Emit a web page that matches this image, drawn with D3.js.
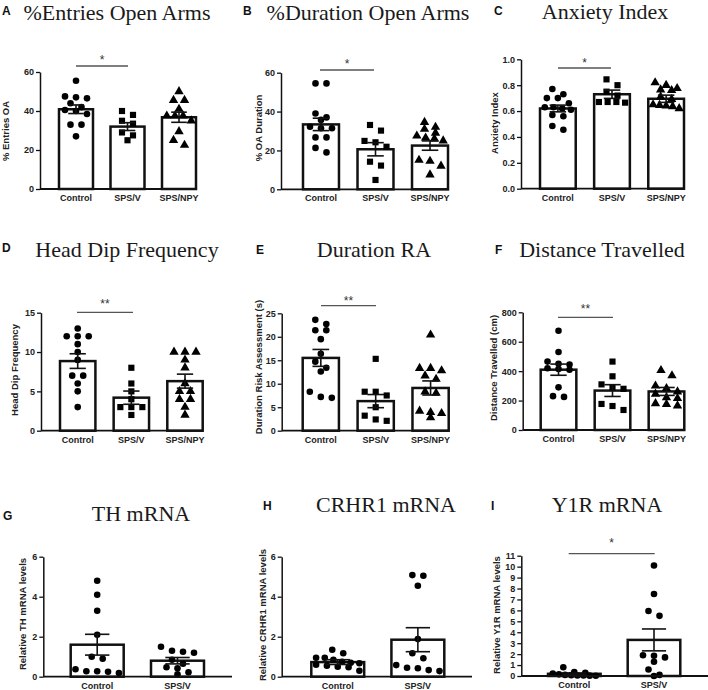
<!DOCTYPE html>
<html><head><meta charset="utf-8">
<script src="https://cdn.jsdelivr.net/npm/d3@7"></script>
<style>body{margin:0;background:#fff}svg{display:block}</style>
</head><body>
<svg id="c" width="708" height="690"></svg>
<script>
// ---------- DATA ----------
const groups3 = ["Control", "SPS/V", "SPS/NPY"];
const groups2 = ["Control", "SPS/V"];

// A  %Entries Open Arms
const entriesControl = [55.5, 47.5, 47, 46.5, 44, 42, 40.5, 40, 38.5, 33, 33, 27];
const entriesSPSV = [40, 38, 35, 33.5, 29, 27.5, 25];
const entriesSPSNPY = [50, 45.5, 45.5, 41, 37.5, 37.5, 37.5, 35, 29.5, 25, 22.5];
const entriesMean = [40.9, 32, 36.8];
const entriesSEM = [2.2, 2.0, 2.6];
const entriesTicks = [0, 20, 40, 60];

// B  %Duration Open Arms
const durationControl = [54.5, 54.5, 39, 37, 35.7, 32.2, 31.4, 31.4, 26.7, 26.7, 21.3, 19];
const durationSPSV = [33.1, 30.2, 24.9, 24.2, 21.9, 14.2, 12.2, 4.8];
const durationSPSNPY = [34.5, 32, 31, 29, 27.5, 26.5, 26, 25, 15, 14.5, 12, 7.5];
const durationMean = [33.4, 20.6, 22.5];
const durationSEM = [3.2, 3.4, 2.4];
const durationTicks = [0, 20, 40, 60];

// C  Anxiety Index
const anxietyControl = [0.77, 0.73, 0.70, 0.70, 0.66, 0.63, 0.63, 0.62, 0.61, 0.57, 0.56, 0.485, 0.455];
const anxietySPSV = [0.845, 0.80, 0.75, 0.72, 0.67, 0.67, 0.67, 0.665];
const anxietySPSNPY = [0.82, 0.80, 0.775, 0.765, 0.76, 0.71, 0.69, 0.65, 0.645, 0.64, 0.635, 0.62];
const anxietyMean = [0.62, 0.73, 0.695];
const anxietySEM = [0.026, 0.032, 0.028];
const anxietyTicks = [0, 0.2, 0.4, 0.6, 0.8, 1.0];

// D  Head Dip Frequency
const headDipControl = [13, 12, 12, 12, 11, 10, 9, 7, 7, 6, 5, 3];
const headDipSPSV = [8, 6, 5, 4, 3, 3, 3, 2];
const headDipSPSNPY = [10, 10, 10, 9, 8, 6, 5, 5, 4, 4, 3, 2];
const headDipMean = [8.85, 4.2, 6.3];
const headDipSEM = [0.93, 0.84, 0.89];
const headDipTicks = [0, 5, 10, 15];

// E  Duration RA
const riskControl = [23.6, 22.7, 21.4, 21.4, 19.5, 16.4, 14.7, 13.4, 12.6, 8.3, 7.2, 7];
const riskSPSV = [15.3, 8.3, 8.3, 7.5, 5, 3.2, 2.4, 2.1];
const riskSPSNPY = [20.4, 13.3, 13.3, 12.8, 11.7, 11, 8.3, 8, 4.2, 3.9, 3.7, 2.8];
const riskMean = [15.5, 6.3, 9.1];
const riskSEM = [1.8, 1.4, 1.5];
const riskTicks = [0, 5, 10, 15, 20, 25];

// F  Distance Travelled
const distanceControl = [675, 530, 465, 450, 445, 420, 415, 410, 290, 230, 225];
const distanceSPSV = [465, 365, 310, 290, 280, 177, 163, 136];
const distanceSPSNPY = [405, 370, 300, 283, 260, 245, 220, 215, 180, 175, 165];
const distanceMean = [410, 268, 262];
const distanceSEM = [38, 40, 27];
const distanceTicks = [0, 200, 400, 600, 800];

// G  TH mRNA
const thControl = [4.8, 4.1, 3.3, 2.1, 1.0, 0.9, 0.37, 0.27, 0.27, 0.25, 0.18];
const thSPSV = [1.5, 1.3, 1.25, 1.2, 0.85, 0.65, 0.47, 0.42, 0.22, 0.12];
const thMean = [1.6, 0.8];
const thSEM = [0.52, 0.16];
const thTicks = [0, 2, 4, 6];

// H  CRHR1 mRNA
const crhr1Control = [1.35, 1.17, 0.95, 0.95, 0.85, 0.75, 0.7, 0.67, 0.6, 0.55, 0.5, 0.47, 0.3];
const crhr1SPSV = [5.08, 5.05, 4.55, 1.88, 1.17, 0.92, 0.58, 0.45, 0.42, 0.33, 0.28];
const crhr1Mean = [0.73, 1.85];
const crhr1SEM = [0.12, 0.6];
const crhr1Ticks = [0, 2, 4, 6];

// I  Y1R mRNA
const y1rControl = [0.8, 0.35, 0.3, 0.22, 0.15, 0.1, 0.08, 0.05, 0.05, 0.03, 0.02];
const y1rSPSV = [10.1, 7.5, 5.95, 5.5, 1.9, 1.85, 1.7, 1.3, 0.6, 0.1, 0.0];
const y1rMean = [0.2, 3.3];
const y1rSEM = [0.07, 1.0];
const y1rTicks = [0, 1, 2, 3, 4, 5, 6, 7, 8, 9, 10, 11];

// ---------- LAYOUT ----------
const SANS = "'Liberation Sans', Arial, sans-serif";
const SERIF = "'Liberation Serif', 'Times New Roman', serif";
const tri = ["circle", "square", "triangle"];
const two = ["circle", "circle"];

const panels = [
  {letter:"A", title:"%Entries Open Arms", ylabel:"% Entries OA", groups:groups3,
   pts:[entriesControl, entriesSPSV, entriesSPSNPY], mean:entriesMean, sem:entriesSEM, ticks:entriesTicks, fmt:d3.format("d"), shapes:tri, sig:"*",
   L:{ax:40, b0:59, b1:196, yT:72, yB:189, xEnd:197, tx:117, ty:19.5, lx:2, ly:15, ylx:6, yly:131, s1:76, s2:128, sy:66, sty:64}},
  {letter:"B", title:"%Duration Open Arms", ylabel:"% OA Duration", groups:groups3,
   pts:[durationControl, durationSPSV, durationSPSNPY], mean:durationMean, sem:durationSEM, ticks:durationTicks, fmt:d3.format("d"), shapes:tri, sig:"*",
   L:{ax:281, b0:303, b1:448, yT:72.7, yB:189.3, xEnd:449, tx:368, ty:19.5, lx:243, ly:15, ylx:259, yly:128, s1:320, s2:374, sy:70, sty:68}},
  {letter:"C", title:"Anxiety Index", ylabel:"Anxiety Index", groups:groups3,
   pts:[anxietyControl, anxietySPSV, anxietySPSNPY], mean:anxietyMean, sem:anxietySEM, ticks:anxietyTicks, fmt:d3.format(".1f"), shapes:tri, sig:"*",
   L:{ax:521, b0:540, b1:684, yT:59.3, yB:188.7, xEnd:685, tx:605, ty:19, lx:494, ly:15, ylx:495, yly:123, s1:558, s2:611, sy:68, sty:67}},
  {letter:"D", title:"Head Dip Frequency", ylabel:"Head Dip Frequency", groups:groups3,
   pts:[headDipControl, headDipSPSV, headDipSPSNPY], mean:headDipMean, sem:headDipSEM, ticks:headDipTicks, fmt:d3.format("d"), shapes:tri, sig:"**",
   L:{ax:41, b0:60, b1:202.7, yT:312.7, yB:430.7, xEnd:203, tx:127, ty:257, lx:2, ly:252, ylx:15, yly:370, s1:77, s2:133, sy:312.3, sty:308}},
  {letter:"E", title:"Duration RA", ylabel:"Duration Risk Assessment  (s)", groups:groups3,
   pts:[riskControl, riskSPSV, riskSPSNPY], mean:riskMean, sem:riskSEM, ticks:riskTicks, fmt:d3.format("d"), shapes:tri, sig:"**",
   L:{ax:281.7, b0:302.7, b1:448.7, yT:313.3, yB:430.7, xEnd:449, tx:374, ty:257, lx:256, ly:254, ylx:258.5, yly:367, s1:321, s2:376, sy:305.7, sty:305}},
  {letter:"F", title:"Distance Travelled", ylabel:"Distance Travelled (cm)", groups:groups3,
   pts:[distanceControl, distanceSPSV, distanceSPSNPY], mean:distanceMean, sem:distanceSEM, ticks:distanceTicks, fmt:d3.format("d"), shapes:tri, sig:"**",
   L:{ax:522.7, b0:540.7, b1:684.3, yT:312.3, yB:430, xEnd:685, tx:602, ty:257, lx:495, ly:254, ylx:494, yly:368, s1:558, s2:613, sy:317.3, sty:313}},
  {letter:"G", title:"TH mRNA", ylabel:"Relative TH mRNA levels", groups:groups2,
   pts:[thControl, thSPSV], mean:thMean, sem:thSEM, ticks:thTicks, fmt:d3.format("d"), shapes:two, sig:null,
   L:{ax:43.3, b0:70.7, b1:204, yT:556.7, yB:676.7, xEnd:232, tx:141, ty:521, lx:3, ly:520, ylx:23, yly:614}},
  {letter:"H", title:"CRHR1 mRNA", ylabel:"Relative CRHR1 mRNA levels", groups:groups2,
   pts:[crhr1Control, crhr1SPSV], mean:crhr1Mean, sem:crhr1SEM, ticks:crhr1Ticks, fmt:d3.format("d"), shapes:two, sig:null,
   L:{ax:281.7, b0:311.3, b1:444.3, yT:556.7, yB:676.7, xEnd:472, tx:386, ty:512, lx:263, ly:510, ylx:263, yly:615}},
  {letter:"I", title:"Y1R mRNA", ylabel:"Relative Y1R mRNA levels", groups:groups2,
   pts:[y1rControl, y1rSPSV], mean:y1rMean, sem:y1rSEM, ticks:y1rTicks, fmt:d3.format("d"), shapes:two, sig:"*",
   L:{ax:521.3, b0:548, b1:680.3, yT:555.7, yB:676, xEnd:708, tx:607, ty:512, lx:491, ly:510, ylx:497, yly:615, s1:568.7, s2:654.7, sy:553.7, sty:547}}
];

const svg = d3.select("#c");
const R = 3.3;
const symbolMap = {circle: d3.symbolCircle, square: d3.symbolSquare, triangle: d3.symbolTriangle};
const symbolSize = {circle: Math.PI * R * R, square: 38, triangle: 38};

// simple row-based swarm: points close in y share a row and are centred horizontally
function swarm(vals, y, bw) {
  const items = vals.map((v, i) => ({v, i, py: y(v)})).sort((a, b) => a.py - b.py);
  const rows = [];
  let cur = [];
  items.forEach(p => {
    if (cur.length && p.py - cur[0].py > 2 * R * 0.95) { rows.push(cur); cur = []; }
    cur.push(p);
  });
  if (cur.length) rows.push(cur);
  const off = new Array(vals.length).fill(0);
  rows.forEach(row => {
    const k = row.length;
    const sp = k > 1 ? Math.min(11, (bw - 2 * R - 3) / (k - 1)) : 0;
    row.forEach((p, j) => { off[p.i] = (j - (k - 1) / 2) * sp; });
  });
  return off;
}

panels.forEach(p => {
  const L = p.L;
  const g = svg.append("g");
  const y = d3.scaleLinear().domain([0, d3.max(p.ticks)]).range([L.yB, L.yT]);
  const x = d3.scaleBand().domain(p.groups).range([L.b0, L.b1]).paddingInner(0.34).paddingOuter(0);
  const bw = x.bandwidth();

  // title and letter
  g.append("text").attr("x", L.tx).attr("y", L.ty).attr("text-anchor", "middle")
    .style("font-family", SERIF).style("font-size", "22px").attr("fill", "#1a1a1a").text(p.title);
  g.append("text").attr("x", L.lx).attr("y", L.ly)
    .style("font-family", SANS).style("font-size", "12px").style("font-weight", "bold").attr("fill", "#111").text(p.letter);

  // bars
  g.selectAll("rect.bar").data(p.groups).join("rect")
    .attr("x", d => x(d)).attr("width", bw)
    .attr("y", (d, i) => y(p.mean[i])).attr("height", (d, i) => L.yB - y(p.mean[i]))
    .attr("fill", "#fff").attr("stroke", "#111").attr("stroke-width", 2.5);

  // points
  p.groups.forEach((grp, gi) => {
    const vals = p.pts[gi];
    const off = swarm(vals, y, bw);
    const shp = p.shapes[gi];
    g.append("g").selectAll("path").data(vals).join("path")
      .attr("d", d3.symbol().type(symbolMap[shp]).size(symbolSize[shp]))
      .attr("transform", (d, i) => `translate(${x(grp) + bw / 2 + off[i]},${y(d)})`)
      .attr("fill", "#000");
  });

  // error bars (SEM)
  const cap = bw * 0.46;
  p.groups.forEach((grp, gi) => {
    const cx = x(grp) + bw / 2;
    const top = y(p.mean[gi] + p.sem[gi]);
    const bot = y(Math.max(0, p.mean[gi] - p.sem[gi]));
    const eg = g.append("g").attr("stroke", "#111").attr("stroke-width", 1.6);
    eg.append("line").attr("x1", cx).attr("x2", cx).attr("y1", top).attr("y2", bot);
    eg.append("line").attr("x1", cx - cap / 2).attr("x2", cx + cap / 2).attr("y1", top).attr("y2", top);
    eg.append("line").attr("x1", cx - cap / 2).attr("x2", cx + cap / 2).attr("y1", bot).attr("y2", bot);
  });

  // y axis
  const ya = d3.axisLeft(y).tickValues(p.ticks).tickFormat(p.fmt).tickSize(4).tickSizeOuter(0).tickPadding(2);
  const yg = g.append("g").attr("transform", `translate(${L.ax},0)`).call(ya);
  yg.select(".domain").attr("stroke", "#111").attr("stroke-width", 1.5);
  yg.selectAll(".tick line").attr("stroke", "#111").attr("stroke-width", 1.3);
  yg.selectAll(".tick text").style("font-family", SANS).style("font-size", "9px").style("font-weight", "bold").attr("fill", "#222");

  // x axis line + category labels
  g.append("line").attr("x1", L.ax).attr("x2", L.xEnd).attr("y1", L.yB).attr("y2", L.yB)
    .attr("stroke", "#111").attr("stroke-width", 1.8);
  g.selectAll("text.cat").data(p.groups).join("text")
    .attr("x", d => x(d) + bw / 2).attr("y", L.yB + 12).attr("text-anchor", "middle")
    .style("font-family", SANS).style("font-size", "9px").style("font-weight", "bold").attr("fill", "#222")
    .text(d => d);

  // y label
  g.append("text").attr("transform", `translate(${L.ylx},${L.yly}) rotate(-90)`)
    .attr("text-anchor", "middle").attr("dy", "0.35em")
    .style("font-family", SANS).style("font-size", "9.5px").style("font-weight", "bold").attr("fill", "#222")
    .text(p.ylabel);

  // significance
  if (p.sig) {
    g.append("line").attr("x1", L.s1).attr("x2", L.s2).attr("y1", L.sy).attr("y2", L.sy)
      .attr("stroke", "#555").attr("stroke-width", 1.3);
    g.append("text").attr("x", (L.s1 + L.s2) / 2).attr("y", L.sty).attr("text-anchor", "middle")
      .style("font-family", SANS).style("font-size", "12px").attr("fill", "#333").text(p.sig);
  }
});
</script>
</body></html>
